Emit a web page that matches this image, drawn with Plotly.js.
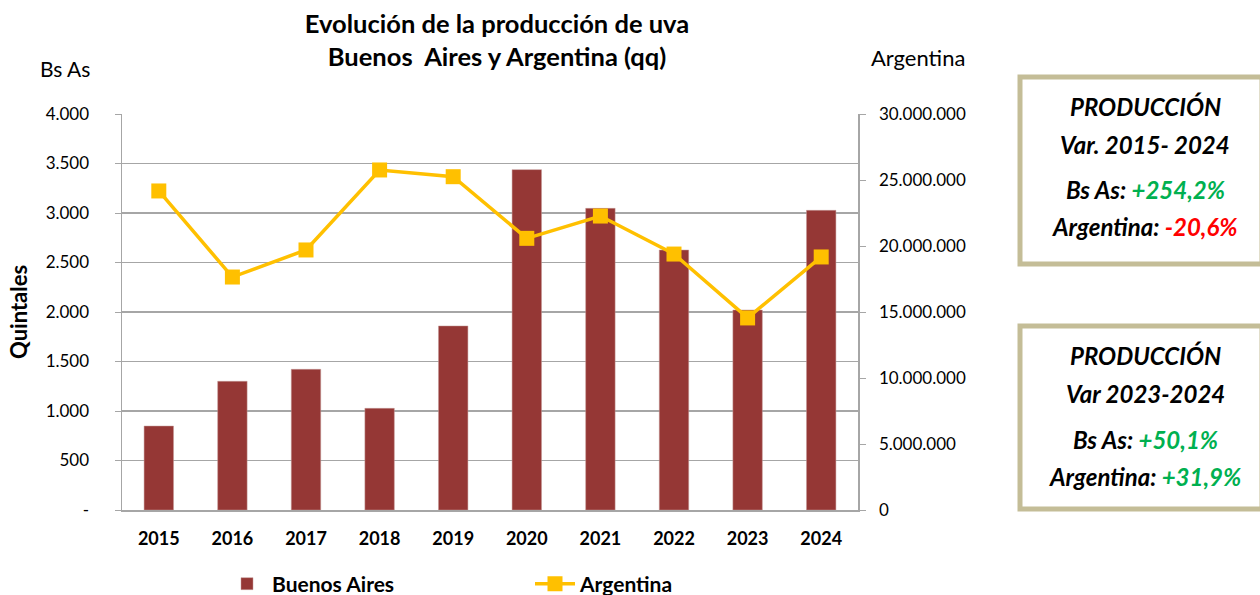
<!DOCTYPE html>
<html>
<head>
<meta charset="utf-8">
<script src="https://cdn.plot.ly/plotly-3.0.1.min.js"></script>
<style>html,body{margin:0;padding:0;background:#fff;}#chart{width:1260px;height:595px;}</style>
</head>
<body>
<div id="chart"></div>
<script>
const years = ['2015','2016','2017','2018','2019','2020','2021','2022','2023','2024'];
const buenosAires = [848, 1300, 1421, 1027, 1859, 3438, 3047, 2626, 2020, 3027];
const argentina = [24170000, 17650000, 19700000, 25760000, 25250000, 20580000, 22270000, 19390000, 14550000, 19170000];
const leftTickVals = [0, 500, 1000, 1500, 2000, 2500, 3000, 3500, 4000];
const leftTickText = ['-', '500', '1.000', '1.500', '2.000', '2.500', '3.000', '3.500', '4.000'];
const rightTickVals = [0, 5000000, 10000000, 15000000, 20000000, 25000000, 30000000];
const rightTickText = ['0', '5.000.000', '10.000.000', '15.000.000', '20.000.000', '25.000.000', '30.000.000'];

const FONT = 'Lato, "Open Sans", sans-serif';
const GRID = '#A6A6A6';

// pixel helpers for paper coords (plot area x 122..858, y 114..510)
const px = x => (x - 122) / 736;
const py = y => (510 - y) / 396;

const traces = [
  {
    type: 'bar', name: 'Buenos Aires', x: years, y: buenosAires,
    marker: {color: '#953735', line: {color: '#C49A99', width: 0.5}},
    yaxis: 'y', hoverinfo: 'x+y'
  },
  {
    type: 'scatter', mode: 'lines+markers', name: 'Argentina', x: years, y: argentina,
    line: {color: '#FFC000', width: 3.5},
    marker: {symbol: 'square', size: 15, color: '#FFC000'},
    yaxis: 'y2'
  }
];

const boxStyle = {color: '#C4BD97', width: 5};
const shapes = [
  {type: 'rect', xref: 'paper', yref: 'paper', x0: px(1020), x1: px(1262), y0: py(264), y1: py(77), line: boxStyle, fillcolor: 'rgba(0,0,0,0)'},
  {type: 'rect', xref: 'paper', yref: 'paper', x0: px(1020), x1: px(1262), y0: py(509), y1: py(326), line: boxStyle, fillcolor: 'rgba(0,0,0,0)'}
];

const boxFont = {family: FONT, size: 24, color: '#000'};
const bx = px(1145);
function boxLine(text, y) {
  return {xref: 'paper', yref: 'paper', x: bx, y: py(y), xanchor: 'center', yanchor: 'middle',
          text: '<b><i>' + text + '</i></b>', showarrow: false, font: boxFont};
}
const GREEN = '#00B050', RED = '#FF0000';

const annotations = [
  {xref: 'paper', yref: 'paper', x: px(65), y: py(68), xanchor: 'center', yanchor: 'middle', text: 'Bs As', showarrow: false, font: {family: FONT, size: 21, color: '#000'}},
  {xref: 'paper', yref: 'paper', x: px(918), y: py(58), xanchor: 'center', yanchor: 'middle', text: 'Argentina', showarrow: false, font: {family: FONT, size: 22, color: '#000'}},
  {xref: 'paper', yref: 'paper', x: px(18), y: py(312), xanchor: 'center', yanchor: 'middle', text: '<b>Quintales</b>', textangle: -90, showarrow: false, font: {family: FONT, size: 22, color: '#000'}},
  boxLine('PRODUCCIÓN', 107),
  boxLine('Var. 2015- 2024', 144),
  boxLine('Bs As: <span style="color:' + GREEN + '">+254,2%</span>', 189),
  boxLine('Argentina: <span style="color:' + RED + '">-20,6%</span>', 226),
  boxLine('PRODUCCIÓN', 355),
  boxLine('Var 2023-2024', 393),
  boxLine('Bs As: <span style="color:' + GREEN + '">+50,1%</span>', 439),
  boxLine('Argentina: <span style="color:' + GREEN + '">+31,9%</span>', 476)
];

const layout = {
  width: 1260, height: 595,
  margin: {l: 122, r: 402, t: 114, b: 85, pad: 0},
  paper_bgcolor: '#fff', plot_bgcolor: '#fff',
  font: {family: FONT, color: '#000'},
  title: {
    text: '<b>Evolución de la producción de uva<br>Buenos  Aires y Argentina (qq)</b>',
    font: {family: FONT, size: 25.5, color: '#000'},
    x: px(497), xref: 'paper', xanchor: 'center',
    y: 1 - 33 / 595, yref: 'container', yanchor: 'middle'
  },
  bargap: 0.6,
  showlegend: true,
  legend: {
    orientation: 'h', x: px(222), xref: 'paper', y: (595 - 584) / 595, yref: 'container',
    xanchor: 'left', yanchor: 'middle',
    font: {family: FONT, size: 21, color: '#000', weight: 'bold'},
    entrywidth: 253, entrywidthmode: 'pixels', itemwidth: 40,
    bgcolor: 'rgba(0,0,0,0)'
  },
  xaxis: {
    type: 'category', range: [-0.5, 9.5], autorange: false,
    showgrid: false, showline: true, linecolor: GRID, linewidth: 1.5,
    ticks: '', tickfont: {family: FONT, size: 18, color: '#000', weight: 'bold'},
    ticklabelstandoff: 12, zeroline: false, fixedrange: true
  },
  yaxis: {
    range: [0, 4000], tickvals: leftTickVals, ticktext: leftTickText,
    showgrid: true, gridcolor: GRID, gridwidth: 1.2, showline: true, linecolor: GRID, linewidth: 1.5,
    ticks: 'outside', ticklen: 6, tickcolor: GRID, ticklabelstandoff: 22,
    tickfont: {family: FONT, size: 17, color: '#000'}, zeroline: false, fixedrange: true
  },
  yaxis2: {
    overlaying: 'y', side: 'right', range: [0, 30000000], tickvals: rightTickVals, ticktext: rightTickText,
    showgrid: false, showline: true, linecolor: GRID, linewidth: 1.5,
    ticks: 'outside', ticklen: 6, tickcolor: GRID, ticklabelstandoff: 10,
    tickfont: {family: FONT, size: 17, color: '#000'}, zeroline: false, fixedrange: true
  },
  shapes: shapes,
  annotations: annotations
};

Plotly.newPlot('chart', traces, layout, {displayModeBar: false, staticPlot: true});
</script>
</body>
</html>
